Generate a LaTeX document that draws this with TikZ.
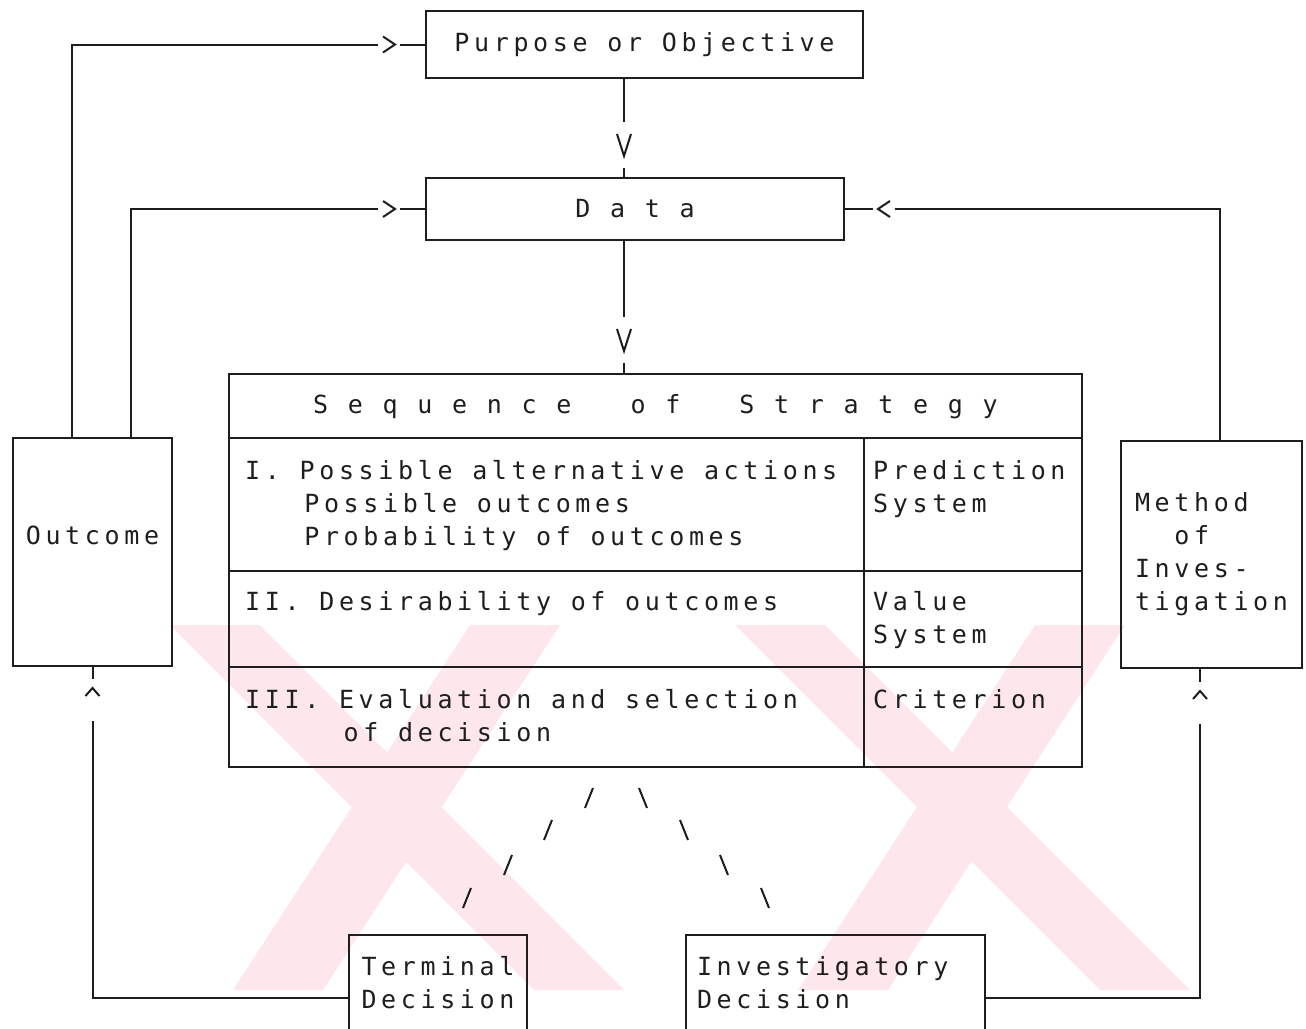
\documentclass[tikz,border=0pt]{standalone}
\usepackage{fontspec}
\newfontfamily\dotfont[LetterSpace=18.6]{DejaVu Sans Mono}
\newcommand\dottext{\dotfont\fontsize{25pt}{33pt}\selectfont\spaceskip=19.7pt\relax}
\usetikzlibrary{positioning}
\definecolor{ink}{RGB}{30,30,30}
\definecolor{wmark}{RGB}{253,231,236}
\tikzset{
  box/.style={draw=ink, line width=2pt, inner sep=0pt, text=ink, align=left, font=\dottext},
  txt/.style={inner sep=0pt, text=ink, align=left, font=\dottext, anchor=north west},
  link/.style={draw=ink, line width=2pt},
  chv/.style={draw=ink, line width=2pt},
  chevR/.pic={\fill[white] (-11,-4) rectangle (11,4); \draw[chv] (-6,-8) -- (6,0) -- (-6,8);},
  chevL/.pic={\fill[white] (-11,-4) rectangle (11,4); \draw[chv] (6,-8) -- (-6,0) -- (6,8);},
  chevD/.pic={\fill[white] (-4,-23) rectangle (4,23); \draw[chv] (-7,-11) -- (0,11) -- (7,-11);},
  chevU/.pic={\fill[white] (-4,-21) rectangle (4,21); \draw[chv] (-7,-4) -- (0,-12) -- (7,-4);}
}
\begin{document}
\begin{tikzpicture}[x=1pt,y=-1pt]
\useasboundingbox (0,0) rectangle (1306,1028);

\fill[wmark] (470,625) -- (560,625) -- (323,990) -- (233,990) -- cycle;
\fill[wmark] (170,625) -- (260,625) -- (624,990) -- (534,990) -- cycle;
\fill[wmark] (735,625) -- (825,625) -- (1190,990) -- (1100,990) -- cycle;
\fill[wmark] (1035,625) -- (1125,625) -- (888,990) -- (798,990) -- cycle;

\coordinate (spine) at (624,0);
\node[box, minimum width=437pt, minimum height=67pt] (purpose) at (644.5,44.5) {Purpose or Objective};
\node[box, minimum width=418pt, minimum height=62pt] (data) at (635,209) {D a t a};
\node[box, minimum width=853pt, minimum height=393pt] (seq) at (655.5,570.5) {};
\node[box, minimum width=159pt, minimum height=228pt, text depth=34pt] (outcome) at (92.5,552) {Outcome};
\node[box, minimum width=181pt, minimum height=227pt] (method) at (1211.5,554.5) {Method\\~~of\\Inves-\\tigation};
\node[box, minimum width=178pt, minimum height=96pt] (tdec) at (438,983) {Terminal\\Decision};
\node[box, text width=277pt, inner xsep=11pt, minimum height=96pt] (idec) at (835.5,983) {Investigatory\\Decision};

\draw[link] (229,438) -- (1082,438);
\draw[link] (229,571) -- (1082,571);
\draw[link] (229,667) -- (1082,667);
\draw[link] (864,438) -- (864,767);

\node[txt, anchor=center] (title) at (655.5,406.5) {S e q u e n c e~~~o f~~~S t r a t e g y};
\node[txt] (alt) at (245,460) {I. Possible alternative actions\\~~~Possible outcomes\\~~~Probability of outcomes};
\node[txt] (pred) at (873,460) {Prediction\\System};
\node[txt] (desir) at (245,591) {II. Desirability of outcomes};
\node[txt] (val) at (873,591) {Value\\System};
\node[txt] (eval) at (245,689) {III. Evaluation and selection\\~~~~~of decision};
\node[txt] (crit) at (873,689) {Criterion};

\draw[link] (purpose.south -| spine) -- (data.north -| spine);
\pic at (624,145) {chevD};
\draw[link] (data.south -| spine) -- (seq.north -| spine);
\pic at (624,340) {chevD};

\draw[link] ([xshift=-20.5pt]outcome.north) |- (purpose.west);
\pic at (389,44.5) {chevR};
\draw[link] ([xshift=38pt]outcome.north) |- (data.west);
\pic at (389,209) {chevR};
\draw[link] ([xshift=8.5pt]method.north) |- (data.east);
\pic at (884,209) {chevL};

\draw[link] ([yshift=-15pt]tdec.west) -| (outcome.south);
\pic at (92.5,700) {chevU};
\draw[link] ([yshift=-15pt]idec.east) -| ([xshift=-11.5pt]method.south);
\pic at (1200,703) {chevU};

\draw[link] (593,788) -- (585,808) (552,820) -- (544,840) (512,855) -- (504,875) (471,888) -- (463,908);
\draw[link] (639,788) -- (647,808) (680,820) -- (688,840) (720,855) -- (728,875) (761,888) -- (769,908);

\end{tikzpicture}
\end{document}
